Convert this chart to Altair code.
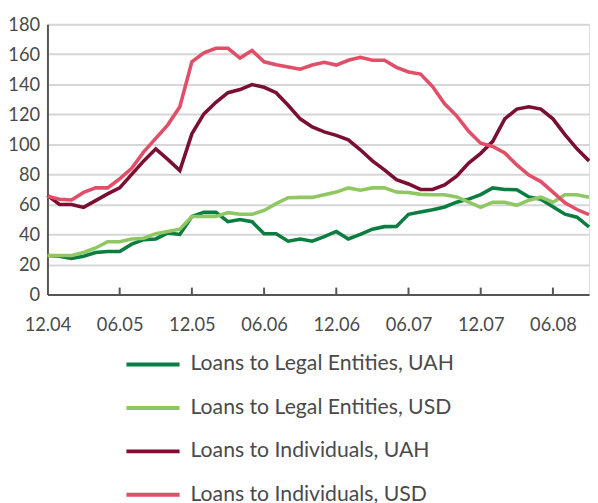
import altair as alt
import pandas as pd

months = ["12.04",
          "01.05", "02.05", "03.05", "04.05", "05.05", "06.05", "07.05", "08.05", "09.05", "10.05", "11.05", "12.05",
          "01.06", "02.06", "03.06", "04.06", "05.06", "06.06", "07.06", "08.06", "09.06", "10.06", "11.06", "12.06",
          "01.07", "02.07", "03.07", "04.07", "05.07", "06.07", "07.07", "08.07", "09.07", "10.07", "11.07", "12.07",
          "01.08", "02.08", "03.08", "04.08", "05.08", "06.08", "07.08", "08.08", "09.08"]

legal_uah = [26, 25.5, 24, 25.5, 28, 28.7, 28.7, 33.5, 36.5, 37, 41, 40, 52,
             54.7, 54.7, 48.5, 50, 48.5, 40.5, 40.4, 35.5, 37, 35.5, 38.5, 42,
             37, 40, 43.5, 45.2, 45.3, 53.4, 55, 56.5, 58.3, 61.5, 63.5, 66.5,
             71, 70, 69.8, 65, 63.5, 58.5, 53.5, 51.5, 45]
legal_usd = [25.9, 26, 26, 28, 31, 35.2, 35.2, 37, 37.5, 40.5, 42, 43.5, 52,
             52, 52, 54.5, 53.4, 53.4, 56, 60.5, 64.5, 64.7, 64.7, 66.5, 68.2,
             71, 69.5, 71, 71, 68.2, 68, 66.7, 66.5, 66.5, 65, 61.6, 58,
             61.5, 61.4, 59.4, 62.8, 64.8, 61.5, 66.4, 66.4, 64.8]
ind_uah = [66, 60, 60, 58, 62.5, 67, 71, 80, 89, 97, 90, 82.5, 107,
           120.3, 128, 134.4, 136.5, 139.8, 138, 134.4, 126, 117, 111.6, 108.3, 106,
           103, 96.4, 89, 83, 76.5, 73.6, 70, 70, 73, 78.8, 87.5, 94,
           102, 117, 123.5, 125, 123.5, 117, 106.5, 97, 89]
ind_usd = [65.5, 63.5, 63, 68, 71, 71, 77, 84, 95, 104, 113, 125, 155,
           161, 164, 164, 157.5, 162.5, 155, 153, 151.5, 150, 152.8, 154.6, 152.8,
           156, 158, 156, 156, 151.3, 148.2, 146.8, 138.5, 127, 119, 108.7, 100.8,
           98.6, 94.3, 86.3, 79.5, 75.2, 68.2, 61, 56.6, 53.2]

series_names = ["Loans to Legal Entities, UAH", "Loans to Legal Entities, USD",
                "Loans to Individuals, UAH", "Loans to Individuals, USD"]
series_colors = ["#0b7d40", "#8fc862", "#7b0e33", "#e04f67"]
tick_labels = ["06.05", "12.05", "06.06", "12.06", "06.07", "12.07", "06.08"]
axis_labels = ["12.04"] + tick_labels
y_ticks = [0, 20, 40, 60, 80, 100, 120, 140, 160, 180]

rows = []
for name, vals in zip(series_names, [legal_uah, legal_usd, ind_uah, ind_usd]):
    for m, v in zip(months, vals):
        rows.append({"month": m, "value": v, "series": name})
df = pd.DataFrame(rows)
ticks_df = pd.DataFrame({"month": tick_labels})

FONT = "Lato"
FS = 18.5
LFS = 21.5
W, H = 549, 274

x_enc = alt.X("month:O", sort=months,
              scale=alt.Scale(type="point", padding=0, domain=months),
              axis=alt.Axis(values=axis_labels, labelAngle=0, ticks=False,
                            labelPadding=30, labelBaseline="middle",
                            domainColor="#555555", domainWidth=2,
                            labelFont=FONT, labelFontSize=FS, labelColor="#4a4a4a",
                            grid=False, title=None))

lines = alt.Chart(df).mark_line(strokeWidth=3.6).encode(
    x=x_enc,
    y=alt.Y("value:Q", scale=alt.Scale(domain=[0, 180], nice=False),
            axis=alt.Axis(values=y_ticks, ticks=False, labelPadding=8,
                          domainColor="#555555", domainWidth=2,
                          gridColor="#d6d6d6", gridWidth=2,
                          labelFont=FONT, labelFontSize=FS, labelColor="#4a4a4a",
                          title=None)),
    color=alt.Color("series:N", sort=series_names,
                    scale=alt.Scale(domain=series_names, range=series_colors),
                    legend=alt.Legend(orient="none", legendX=78, legendY=333,
                                      direction="vertical", title=None,
                                      symbolType="stroke", symbolSize=2900,
                                      symbolStrokeWidth=4, rowPadding=20,
                                      clipHeight=24, labelLimit=500,
                                      labelFont=FONT, labelFontSize=LFS,
                                      labelColor="#4a4a4a", labelOffset=9)),
)

tick_marks = alt.Chart(ticks_df).mark_rule(color="#555555", strokeWidth=2).encode(
    x=alt.X("month:O", sort=months),
    y=alt.value(H - 7),
    y2=alt.value(H),
)

chart = alt.layer(lines, tick_marks).properties(
    width=W, height=H,
    autosize=alt.AutoSizeParams(type="none"),
    padding={"left": 40, "top": 13, "right": 1, "bottom": 215},
).configure_view(stroke="#555555", strokeWidth=2).configure(background="white")

chart.save("out.html", embed_options={"renderer": "svg", "actions": False})
